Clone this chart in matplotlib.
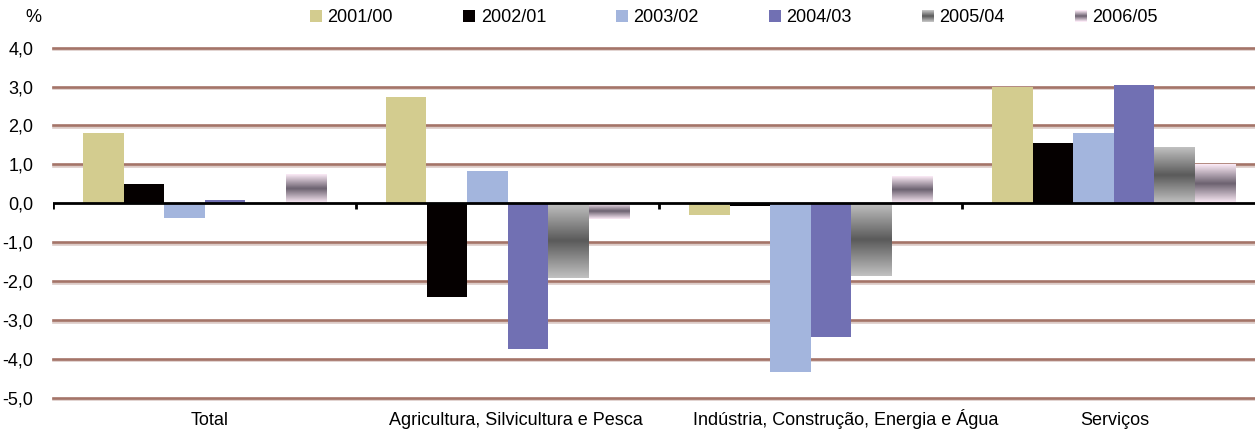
import numpy as np
import matplotlib
matplotlib.use("Agg")
import matplotlib.pyplot as plt
import matplotlib.patheffects as pe
from matplotlib.patches import Rectangle
from matplotlib.legend_handler import HandlerBase
from matplotlib.colors import to_rgb
from matplotlib.ticker import FuncFormatter

# ---------------------------------------------------------------------
# data
# ---------------------------------------------------------------------
categories = ["Total", "Agricultura, Silvicultura e Pesca",
              "Indústria, Construção, Energia e Água", "Serviços"]
series = ["2001/00", "2002/01", "2003/02", "2004/03", "2005/04", "2006/05"]

v_2001_00 = [1.81, 2.72, -0.30, 3.00]
v_2002_01 = [0.50, -2.41, -0.07, 1.55]
v_2003_02 = [-0.38, 0.83, -4.35, 1.81]
v_2004_03 = [0.08, -3.75, -3.45, 3.03]
v_2005_04 = [0.00, -1.92, -1.86, 1.43]
v_2006_05 = [0.73, -0.41, 0.68, 0.98]
values = [v_2001_00, v_2002_01, v_2003_02, v_2004_03, v_2005_04, v_2006_05]

y_ticks = [4, 3, 2, 1, 0, -1, -2, -3, -4, -5]

# ---------------------------------------------------------------------
# style
# ---------------------------------------------------------------------
plt.rcParams["font.family"] = ["Liberation Sans", "DejaVu Sans"]
FS = 13

solid_colors = {"2001/00": "#d3cc8f", "2002/01": "#050000",
                "2003/02": "#a3b5dd", "2004/03": "#7170b3"}
# (end colour, middle colour) for the two gradient series
grad_colors = {"2005/04": ("#c0c0c0", "#5a5a5a"),
               "2006/05": ("#fbeaf6", "#6c6270")}
grid_col = "#a47468"


def gradient_rgb(end, mid, n=64):
    t = np.linspace(0, 1, n)
    w = 1 - np.abs(2 * t - 1)
    e = np.array(to_rgb(end))
    m = np.array(to_rgb(mid))
    return e[None, :] + (m - e)[None, :] * w[:, None]


class GradientHandler(HandlerBase):
    def __init__(self, end, mid):
        super().__init__()
        self.end, self.mid = end, mid

    def create_artists(self, legend, orig_handle, xdescent, ydescent,
                       width, height, fontsize, trans):
        cols = gradient_rgb(self.end, self.mid, 12)
        n = len(cols)
        arts = []
        for i, c in enumerate(cols):
            r = Rectangle((-xdescent, -ydescent + height * i / n), width,
                          height / n + 0.05, facecolor=c, edgecolor="none",
                          transform=trans)
            arts.append(r)
        return arts


fig = plt.figure(figsize=(12.55, 4.32), dpi=100)
ax = fig.add_axes([53 / 1255, 1 - 397.7 / 432, (1255 - 53) / 1255,
                   (397.7 - 47.7) / 432])

n_groups = len(categories)
n_series = len(series)
bar_w = 40.5 / 303
x0 = np.arange(n_groups) + 0.5

handles = []
for i, (name, vals) in enumerate(zip(series, values)):
    xs = x0 + (i - (n_series - 1) / 2) * bar_w
    if name in solid_colors:
        bars = ax.bar(xs, vals, width=bar_w, color=solid_colors[name],
                      zorder=3, linewidth=0)
        handles.append(bars)
    else:
        end, mid = grad_colors[name]
        bars = ax.bar(xs, vals, width=bar_w, facecolor="none",
                      linewidth=0, zorder=3)
        img = gradient_rgb(end, mid)[:, None, :]
        for b in bars:
            bx, by = b.get_x(), b.get_y()
            bw, bh = b.get_width(), b.get_height()
            if bh == 0:
                continue
            ax.imshow(img, extent=[bx, bx + bw, by, by + bh],
                      aspect="auto", zorder=3, interpolation="bilinear")
        handles.append(bars)

ax.set_xlim(0, (1255 - 53) / 303)
ax.set_ylim(-5, 4)
ax.set_aspect("auto")

# gridlines with a light shadow
for yv in y_ticks:
    if yv == 0:
        continue
    ax.axhline(yv, color=grid_col, lw=1.9, zorder=1, clip_on=False,
               path_effects=[pe.SimpleLineShadow(offset=(0, -1.2),
                                                 shadow_color="#dccbc7",
                                                 alpha=1),
                             pe.Normal()])

# zero axis line with group separator ticks
ax.axhline(0, color="black", lw=2.0, zorder=4)
ax.vlines(np.arange(n_groups), -0.15, 0, color="black", lw=2.0, zorder=4)

for s in ax.spines.values():
    s.set_visible(False)

ax.set_yticks(y_ticks)
ax.yaxis.set_major_formatter(FuncFormatter(lambda v, p: f"{v:.1f}".replace(".", ",")))
ax.tick_params(axis="y", length=0, pad=14, labelsize=FS)

label_pos = [0.518, 1.528, 2.617, 3.505]
ax.set_xticks(label_pos)
ax.set_xticklabels(categories)
ax.tick_params(axis="x", length=0, pad=20, labelsize=FS)
for lbl in ax.get_xticklabels():
    lbl.set_verticalalignment("baseline")

fig.text(33 / 1255, 1 - 18 / 432, "%", fontsize=FS, ha="center", va="center")

handler_map = {handles[4]: GradientHandler(*grad_colors["2005/04"]),
               handles[5]: GradientHandler(*grad_colors["2006/05"])}
fig.legend(handles, series, loc="center", bbox_to_anchor=(0.585, 1 - 18 / 432),
           ncol=6, frameon=False, fontsize=FS, handlelength=0.65,
           handleheight=0.65, handletextpad=0.3, columnspacing=3.9,
           handler_map=handler_map)

fig.savefig("out.png", dpi=100)
